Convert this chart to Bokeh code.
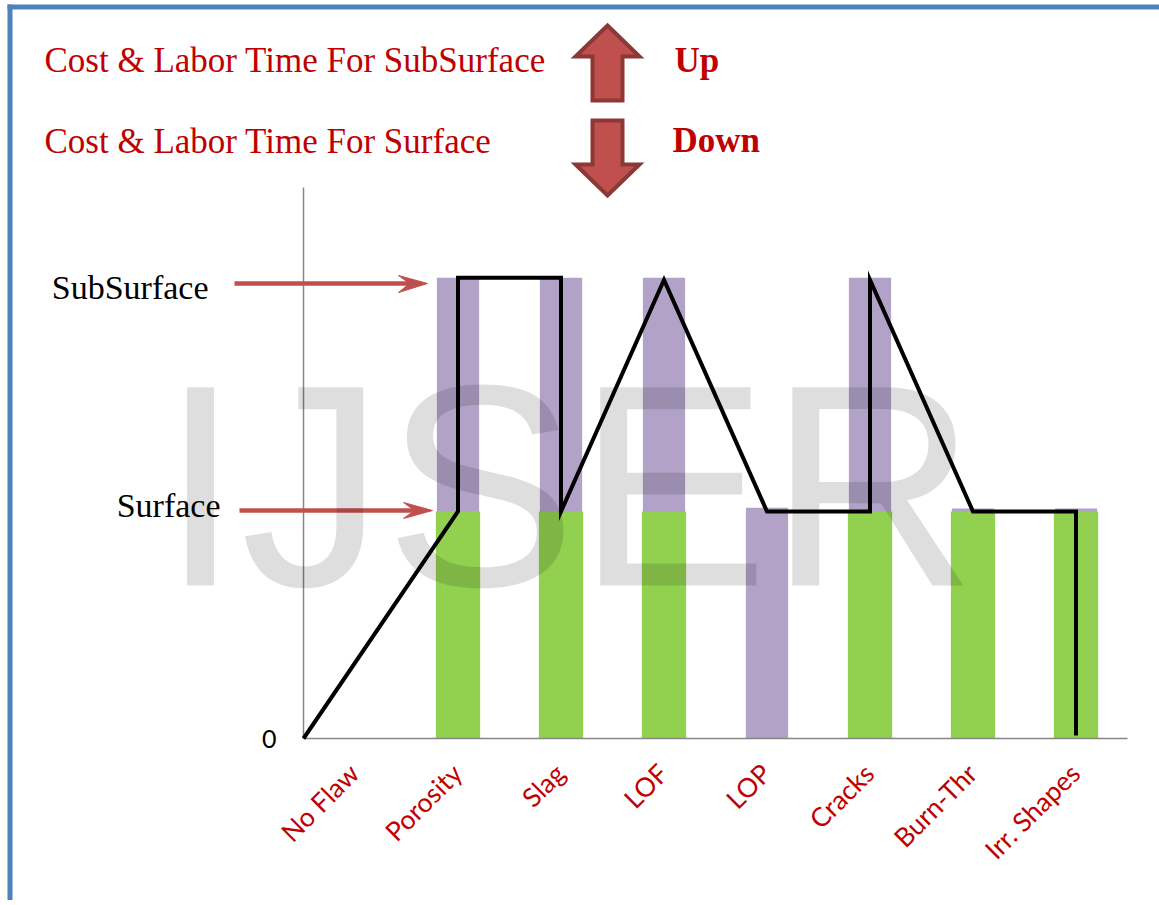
import math
from bokeh.plotting import figure
from bokeh.models import Range1d, ColumnDataSource
from bokeh.core.properties import value
from bokeh.embed import file_html
from bokeh.resources import INLINE

# ---------------- data ----------------
categories = ["No Flaw", "Porosity", "Slag", "LOF", "LOP", "Cracks", "Burn-Thr", "Irr. Shapes"]
subsurface_bars = [0, 2.03, 2.03, 2.03, 1.017, 2.03, 1.013, 1.013]
surface_bars = [0, 1.0, 1.0, 1.0, 0, 1.0, 1.0, 1.0]
path_x = [-0.5, 1, 1, 2, 2, 3, 4, 5, 5, 6, 7, 7]
path_y = [0, 1.0, 2.03, 2.03, 1.0, 2.02, 1.0, 1.0, 2.02, 1.0, 1.0, 0.013]
level_names = ["SubSurface", "Surface"]
title_lines = ["Cost & Labor Time For SubSurface", "Cost & Labor Time For Surface"]
direction_words = ["Up", "Down"]
watermark = "IJSER"

# ---------------- layout ----------------
W, H = 1159, 900
X0, X1 = 0, W
Y0, Y1 = 0, H


def cat_from_px(X):
    return (X - 303) / 103.0 - 0.5


def lvl_from_px(Y):
    return (738 - Y) / 227.0


p = figure(width=W, height=H,
           x_range=Range1d(cat_from_px(X0), cat_from_px(X1)),
           y_range=Range1d(lvl_from_px(Y1), lvl_from_px(Y0)),
           output_backend="svg", toolbar_location=None,
           x_axis_type=None, y_axis_type=None, min_border=0,
           title=None, outline_line_color=None,
           background_fill_color="white", border_fill_color="white")
p.extra_x_ranges = {"px": Range1d(X0, X1)}
p.extra_y_ranges = {"px": Range1d(Y1, Y0)}
PX = dict(x_range_name="px", y_range_name="px")

RED_TXT = "#c00000"
ARROW = "#c0504d"
ARROW_DARK = "#8c3836"

# page border (blue)
p.quad(left=[7], right=[12], top=[4], bottom=[Y1], fill_color="#4f81bd", line_color=None, **PX)
p.quad(left=[7], right=[X1], top=[4], bottom=[9], fill_color="#4f81bd", line_color=None, **PX)

src = ColumnDataSource(dict(x=list(range(len(categories))), cat=categories,
                            sub=subsurface_bars, surf=surface_bars))

# bars
p.vbar(x="x", top="sub", bottom=0, width=0.41, source=src, fill_color="#b3a2c7", line_color=None)
p.vbar(x="x", top="surf", bottom=0, width=0.43, source=src, fill_color="#92d050", line_color=None)

# axes lines
ax_top = lvl_from_px(187)
p.segment(x0=[-0.5], y0=[0], x1=[-0.5], y1=[ax_top], line_color="#868686", line_width=1.5)
p.segment(x0=[-0.5], y0=[0], x1=[len(categories) - 0.5], y1=[0], line_color="#868686", line_width=1.5)

# black path
p.line(path_x, path_y, line_color="black", line_width=4, line_join="miter")

# category labels
p.text(x="x", y=0, text="cat", source=src, angle=math.pi / 4, text_align="right",
       text_baseline="middle", text_font=value("Lato"), text_font_size="26.5px",
       text_color=RED_TXT, x_offset=-1, y_offset=30)

# level labels
p.text(x=[208, 220], y=[286.5, 505], text=level_names, text_align="right",
       text_baseline="middle", text_font=value("Liberation Serif"),
       text_font_size="34px", text_color="black", **PX)
p.text(x=[-0.5], y=[0], text=["0"], text_align="right", text_baseline="middle",
       text_font=value("Lato"), text_font_size="25px", text_color="black", x_offset=-27, y_offset=0)

# horizontal pointer arrows
p.segment(x0=[234, 239], y0=[283, 510], x1=[412, 417], y1=[283, 510], line_color=ARROW, line_width=4.5, **PX)
p.patches(xs=[[398, 427, 398, 409], [403, 432, 403, 414]],
          ys=[[275, 283, 292, 283], [502, 510, 518, 510]],
          fill_color=ARROW, line_color=ARROW, line_width=1, **PX)

# title texts
p.text(x=[44, 44], y=[60, 140.5], text=title_lines, text_align="left", text_baseline="middle",
       text_font=value("Liberation Serif"), text_font_size="35px", text_color=RED_TXT, **PX)
p.text(x=[674, 672], y=[59.5, 140], text=direction_words, text_align="left", text_baseline="middle",
       text_font=value("Liberation Serif"), text_font_style="bold", text_font_size="35px",
       text_color=RED_TXT, **PX)

# block arrows
p.patches(xs=[[607, 639, 622, 622, 592, 592, 575], [592, 622, 622, 639, 607, 575, 592]],
          ys=[[25, 56, 56, 100, 100, 56, 56], [120, 120, 164, 164, 195, 164, 164]],
          fill_color=ARROW, line_color=ARROW_DARK, line_width=4, line_join="miter", **PX)

# watermark
p.text(x=[160], y=[485], text=[watermark], text_align="left", text_baseline="middle",
       text_font=value("Liberation Sans"), text_font_size="288px", text_color="black",
       text_alpha=0.13, **PX)

open("out.html", "w").write(file_html(p, INLINE))
